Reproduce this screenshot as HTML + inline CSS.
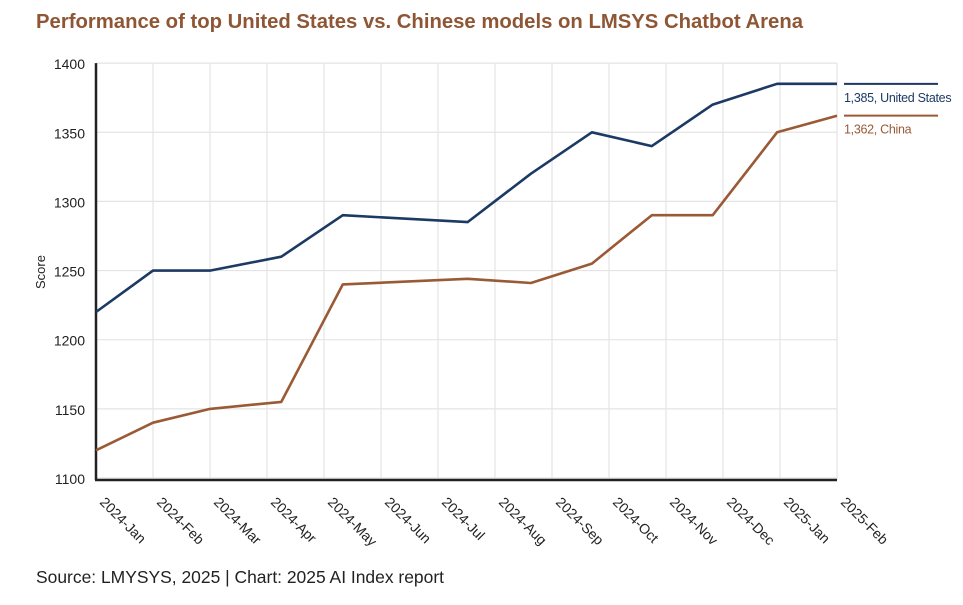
<!DOCTYPE html>
<html><head><meta charset="utf-8">
<style>
html,body{margin:0;padding:0;background:#fff;}
svg{display:block;font-family:"Liberation Sans",Arial,sans-serif;}
</style></head>
<body>
<svg id="chart" width="963" height="605" viewBox="0 0 963 605">
<text x="36" y="28" font-size="20" font-weight="bold" fill="#8e5634" textLength="767" lengthAdjust="spacingAndGlyphs">Performance of top United States vs. Chinese models on LMSYS Chatbot Arena</text>
<g id="grid"></g>
<g id="axes"></g>
<g id="series"></g>
<text x="0" y="0" transform="translate(45,272) rotate(-90)" text-anchor="middle" font-size="13" fill="#222">Score</text>
<text x="36" y="583" font-size="17.5" fill="#222" textLength="408" lengthAdjust="spacingAndGlyphs">Source: LMYSYS, 2025 | Chart: 2025 AI Index report</text>
</svg>
<script>
const monthLabels = ["2024-Jan","2024-Feb","2024-Mar","2024-Apr","2024-May","2024-Jun","2024-Jul","2024-Aug","2024-Sep","2024-Oct","2024-Nov","2024-Dec","2025-Jan","2025-Feb"];
const yTicks = [1100,1150,1200,1250,1300,1350,1400];
const usMonths = [0,1,2,3.25,4.33,6.52,7.63,8.7,9.75,10.82,11.95,13];
const usScores = [1220,1250,1250,1260,1290,1285,1320,1350,1340,1370,1385,1385];
const cnMonths = [0,1,2,3.25,4.33,6.52,7.63,8.7,9.75,10.82,11.95,13];
const cnScores = [1120,1140,1150,1155,1240,1244,1241,1255,1290,1290,1350,1362];
const usLabel = "1,385, United States";
const cnLabel = "1,362, China";

const NS = "http://www.w3.org/2000/svg";
const X0 = 96, DX = 57, Y0 = 478, YMIN = 1100, YS = 1.383;
function xs(m){ return X0 + m*DX; }
function ys(v){ return Y0 - (v - YMIN)*YS; }
function mk(tag, attrs, parent){
  const e = document.createElementNS(NS, tag);
  for (const k in attrs) e.setAttribute(k, attrs[k]);
  parent.appendChild(e); return e;
}
const grid = document.getElementById('grid');
const axes = document.getElementById('axes');
const series = document.getElementById('series');
const xEnd = xs(monthLabels.length - 1);

yTicks.forEach(t => {
  const l = mk('line', {x1:X0, x2:xEnd, y1:ys(t), y2:ys(t), stroke:'#e4e4e4', 'stroke-width':1.2}, grid);
  
  
  const tx = mk('text', {x:X0-11, y:ys(t)+6, 'text-anchor':'end', 'font-size':14, fill:'#222'}, axes);
  tx.textContent = t;
  
  
});
monthLabels.forEach((lab, i) => {
  if (i > 0) {
    const l = mk('line', {x1:xs(i), x2:xs(i), y1:ys(1400), y2:Y0+2, stroke:'#e4e4e4', 'stroke-width':1.2}, grid);
    
    
  }
  const tx = mk('text', {x:0, y:0, transform:'translate(' + (xs(i)+3) + ',' + (Y0+25) + ') rotate(45)', 'font-size':14, fill:'#222'}, axes);
  tx.textContent = lab;
  
  
});
const ax = mk('line', {x1:X0, x2:X0, y1:ys(1400), y2:Y0+2, stroke:'#222', 'stroke-width':2.5}, axes);


const bx = mk('line', {x1:X0-1, x2:xEnd, y1:Y0+2, y2:Y0+2, stroke:'#222', 'stroke-width':2.5}, axes);



function drawSeries(months, scores, color, name, label){
  const pts = months.map((m, i) => xs(m).toFixed(1) + ',' + ys(scores[i]).toFixed(1)).join(' ');
  const p = mk('polyline', {points:pts, fill:'none', stroke:color, 'stroke-width':2.6, 'stroke-linejoin':'round'}, series);
  
  
  const last = scores[scores.length - 1];
  const ly = ys(last);
  const ll = mk('line', {x1:xEnd+7, x2:xEnd+101, y1:ly, y2:ly, stroke:color, 'stroke-width':2}, series);
  
  
  const t = mk('text', {x:xEnd+7, y:ly+18, 'font-size':12.5, fill:color, 'letter-spacing':'-0.3'}, series);
  t.textContent = label;
  
  
}
drawSeries(usMonths, usScores, '#1c3a63', 'us', usLabel);
drawSeries(cnMonths, cnScores, '#9a5a35', 'china', cnLabel);
</script>
</body></html>
